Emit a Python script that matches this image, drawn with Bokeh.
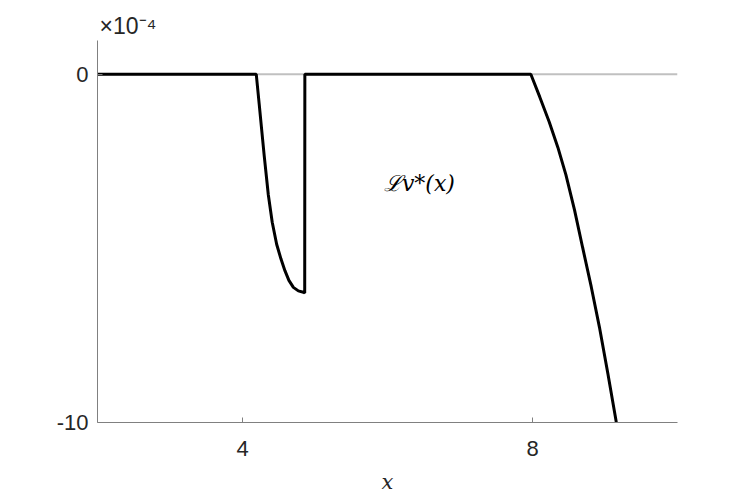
from bokeh.plotting import figure
from bokeh.models import FixedTicker, Span, Label, Range1d
from bokeh.embed import file_html
from bokeh.resources import INLINE

# Data (y values in units of 1e-4)
x_vals = [2.0, 4.19, 4.23, 4.263, 4.30, 4.356, 4.41, 4.471, 4.53, 4.585, 4.64, 4.702, 4.77, 4.840, 4.858,
          4.86, 7.977, 8.10, 8.231, 8.35, 8.461, 8.58, 8.692, 8.81, 8.923, 9.04, 9.153, 9.20]
y_vals = [0.0, 0.0, -0.85, -1.56, -2.35, -3.46, -4.25, -4.88, -5.30, -5.64, -5.92, -6.12, -6.22, -6.26, -6.28,
          0.0, 0.0, -0.65, -1.37, -2.10, -2.89, -3.90, -4.98, -6.10, -7.26, -8.60, -9.96, -10.6]
x_ticks = [4, 8]
y_ticks = [-10, 0]
y_tick_labels = {-10: "-10", 0: "0"}
curve_label = "ℒv*(x)"
exponent_label = "×10⁻⁴"

p = figure(width=739, height=496, output_backend="svg", toolbar_location=None,
           x_range=Range1d(2, 10), y_range=Range1d(-10, 0.97),
           min_border_left=97, min_border_top=40, min_border_right=62, min_border_bottom=70)
p.outline_line_color = None
p.grid.visible = False
p.background_fill_color = "white"

p.title.text = exponent_label
p.title.align = "left"
p.title.offset = 2
p.title.standoff = 3
p.title.text_font = "Liberation Sans"
p.title.text_font_style = "normal"
p.title.text_font_size = "23px"
p.title.text_color = "#262626"

zero = Span(location=0, dimension="width", line_color="#c0c0c0", line_width=2, level="underlay")
p.add_layout(zero)

p.line(x_vals, y_vals, line_color="black", line_width=3)

for ax in (p.xaxis[0], p.yaxis[0]):
    ax.axis_line_color = "#808080"
    ax.major_tick_line_color = "#808080"
    ax.major_tick_in = 5
    ax.major_tick_out = 0
    ax.minor_tick_line_color = None
    ax.major_label_text_color = "#262626"
    ax.major_label_text_font = "Liberation Sans"
    ax.major_label_text_font_size = "22px"

p.xaxis.ticker = FixedTicker(ticks=x_ticks)
p.yaxis.ticker = FixedTicker(ticks=y_ticks)
p.yaxis.major_label_overrides = y_tick_labels
p.xaxis.major_label_standoff = 18
p.yaxis.major_label_standoff = 9

p.xaxis.axis_label = "x"
p.xaxis.axis_label_text_font = "DejaVu Serif"
p.xaxis.axis_label_text_font_style = "italic"
p.xaxis.axis_label_text_font_size = "21px"
p.xaxis.axis_label_text_color = "#262626"
p.xaxis.axis_label_standoff = 11

p.add_layout(Label(x=6.44, y=-3.13, text=curve_label, text_align="center", text_baseline="middle",
                   text_font="DejaVu Serif", text_font_style="italic", text_font_size="22px",
                   text_color="black"))

open("out.html", "w").write(file_html(p, INLINE))
